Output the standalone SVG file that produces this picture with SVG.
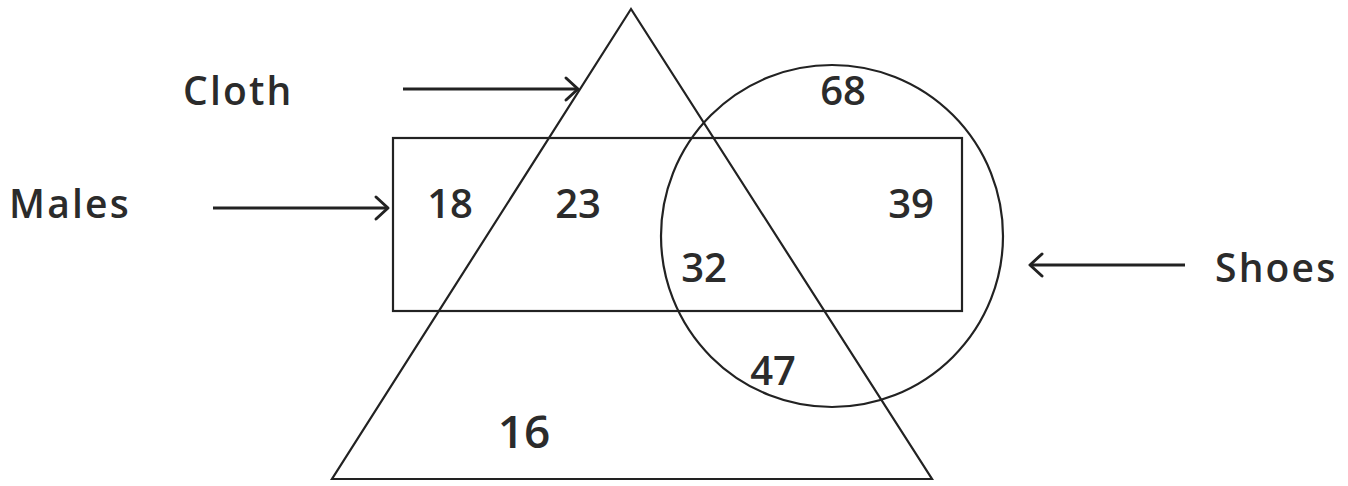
<svg xmlns="http://www.w3.org/2000/svg" width="1348" height="486" viewBox="0 0 1348 486">
<style>
.shape{fill:none;stroke:#222;stroke-width:2.2}
.arr{fill:none;stroke:#222;stroke-width:3}
.lbl{font-family:"Open Sans","DejaVu Sans",sans-serif;font-weight:600;font-size:39px;letter-spacing:2.2px;fill:#2b2b2b}
.num{font-family:"Open Sans","DejaVu Sans",sans-serif;font-weight:600;font-size:40px;fill:#2b2b2b;text-anchor:middle}
</style>
<defs>
<marker id="head" viewBox="0 0 12 12" refX="11" refY="6" markerWidth="12" markerHeight="12" markerUnits="userSpaceOnUse" orient="auto" overflow="visible">
<path d="M-1,-5 L11,6 L-1,17" fill="none" stroke="#222" stroke-width="3" stroke-linecap="round" stroke-linejoin="round"/>
</marker>
</defs>
<g id="cloth-triangle"><polygon class="shape" points="631,9 332,479 932,479"/></g>
<g id="males-rect"><rect class="shape" x="393" y="138" width="569" height="173"/></g>
<g id="shoes-circle"><circle class="shape" cx="832" cy="236" r="171"/></g>
<g id="connectors">
<line class="arr" x1="403" y1="89" x2="578" y2="89" marker-end="url(#head)"/>
<line class="arr" x1="213" y1="208" x2="388" y2="208" marker-end="url(#head)"/>
<line class="arr" x1="1185" y1="265" x2="1030" y2="265" marker-end="url(#head)"/>
</g>
<g id="labels">
<text class="lbl" x="183" y="105">Cloth</text>
<text class="lbl" x="9" y="218">Males</text>
<text class="lbl" x="1215" y="282">Shoes</text>
</g>
<g id="numbers">
<text class="num" x="843" y="105">68</text>
<text class="num" x="450" y="218">18</text>
<text class="num" x="578" y="218">23</text>
<text class="num" x="911" y="218">39</text>
<text class="num" x="704" y="282">32</text>
<text class="num" x="773" y="385">47</text>
<text class="num" x="524" y="448" style="font-size:46px">16</text>
</g>
</svg>
